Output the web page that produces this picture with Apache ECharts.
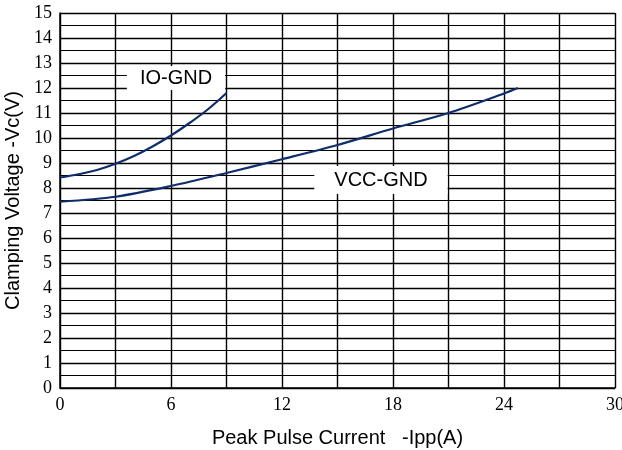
<!DOCTYPE html>
<html>
<head>
<meta charset="utf-8">
<script src="https://cdn.jsdelivr.net/npm/echarts@6/dist/echarts.min.js"></script>
<style>
html,body{margin:0;padding:0;background:#fff;}
#c{width:622px;height:450px;}
</style>
</head>
<body>
<div id="c"></div>
<script>
var ioGnd = [[0,8.42],[1,8.55],[2,8.72],[3,8.97],[4,9.28],[5,9.66],[6,10.1],[7,10.6],[8,11.15],[9,11.8]];
var vccGnd = [[0,7.45],[3,7.65],[6,8.08],[9,8.6],[12,9.15],[15,9.72],[18,10.38],[21,11.0],[24,11.78],[24.75,12.0]];
var seriesLabels = [
  {name:'IO-GND', pos:[6.27,12.4], pad:[2,13,2,13]},
  {name:'VCC-GND', pos:[17.35,8.32], pad:[4,20,4,20]}
];
var xTitle = 'Peak Pulse Current   -Ipp(A)';
var yTitle = 'Clamping Voltage -Vc(V)';

var chart = echarts.init(document.getElementById('c'));
var lineColor = '#0f2d6b';
var series = [
  {type:'line', name:'IO-GND', data:ioGnd, smooth:0.4, symbol:'none', z:5,
   lineStyle:{color:lineColor, width:2.2}},
  {type:'line', name:'VCC-GND', data:vccGnd, smooth:0.3, symbol:'none', z:5,
   lineStyle:{color:lineColor, width:2.2}}
];
seriesLabels.forEach(function(l){
  series.push({type:'scatter', z:3, symbolSize:0, silent:true,
    data:[{value:l.pos}],
    label:{show:true, position:'inside', formatter:l.name, color:'#000',
      textBorderWidth:0, textBorderColor:'transparent', opacity:1,
      fontFamily:'Liberation Sans, Arial, sans-serif', fontSize:20,
      backgroundColor:'#fff', padding:l.pad}});
});
chart.setOption({
  animation:false,
  backgroundColor:'#fff',
  grid:{left:60, right:7, top:13, bottom:62, containLabel:false, outerBoundsMode:'none'},
  xAxis:{type:'value', min:0, max:30, interval:3,
    name:xTitle, nameLocation:'middle', nameGap:40,
    nameTextStyle:{fontFamily:'Liberation Sans, Arial, sans-serif', fontSize:20, color:'#000'},
    axisLine:{show:true, lineStyle:{color:'#000', width:1.5}},
    axisTick:{show:false},
    axisLabel:{margin:8, color:'#000', fontFamily:'Liberation Serif, Times New Roman, serif', fontSize:18,
      hideOverlap:false, formatter:function(v){return v%6===0 ? String(v) : '';}},
    splitLine:{show:true, lineStyle:{color:'#000', width:1.4}}
  },
  yAxis:{type:'value', min:0, max:15, interval:1,
    name:yTitle, nameLocation:'middle', nameGap:31,
    nameTextStyle:{fontFamily:'Liberation Sans, Arial, sans-serif', fontSize:20, color:'#000'},
    axisLine:{show:true, lineStyle:{color:'#000', width:1.5}},
    axisTick:{show:false},
    axisLabel:{margin:8, color:'#000', fontFamily:'Liberation Serif, Times New Roman, serif', fontSize:18},
    splitLine:{show:true, lineStyle:{color:'#000', width:1.4}},
    minorTick:{show:false, splitNumber:2},
    minorSplitLine:{show:true, lineStyle:{color:'#000', width:1.2}}
  },
  series:series
});
</script>
</body>
</html>
